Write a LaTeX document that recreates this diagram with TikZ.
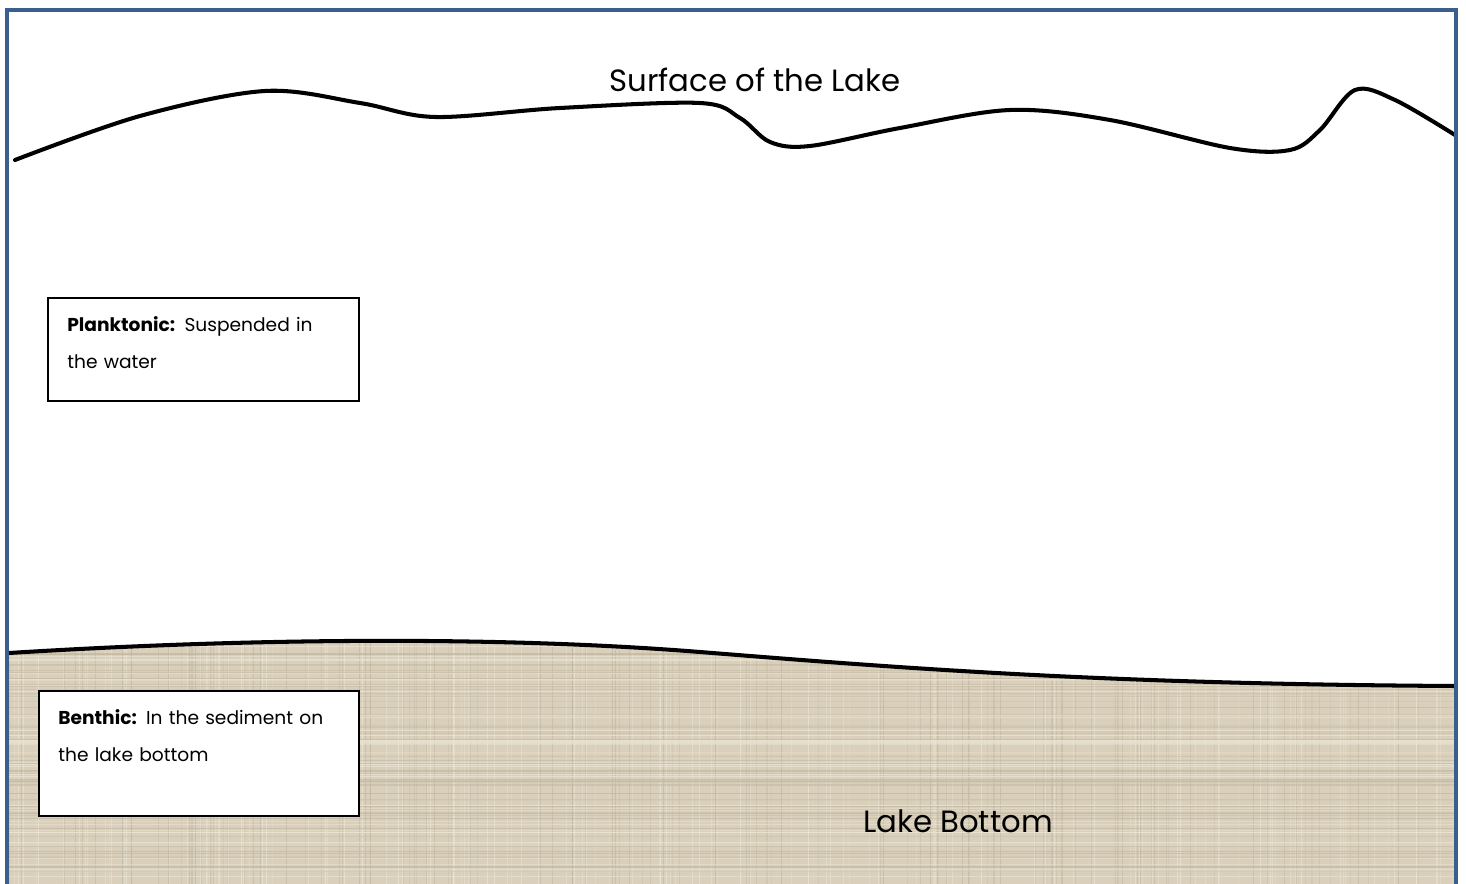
\documentclass[tikz,border=0pt]{standalone}
\usepackage{fontspec}
\setmainfont{Poppins}
\usetikzlibrary{positioning}
\definecolor{frameblue}{RGB}{59,95,140}
\definecolor{sand}{RGB}{217,207,186}
\definecolor{sandlight}{RGB}{236,230,214}
\definecolor{sanddark}{RGB}{194,184,162}

\begin{document}
\begin{tikzpicture}[
    x=0.02cm, y=-0.02cm,
    shore/.style={line width=2.3pt, line cap=round, black},
    panel/.style={rectangle, draw=black, line width=1.1pt, fill=white, anchor=north west, inner sep=0pt},
    paneltext/.style={anchor=north west, align=left, text width=5.44cm, font=\fontsize{10.6}{21}\selectfont, inner sep=0pt},
    bigtext/.style={font=\fontsize{17.5}{21}\selectfont}
  ]
    \useasboundingbox (0,0) rectangle (1466,884);
    \fill[white] (0,0) rectangle (1466,884);

    % lake bottom with linen texture
    \begin{scope}
      \clip (9,653) .. controls (250,638) and (500,636) .. (700,652)
        .. controls (900,668) and (1100,684) .. (1456,686) -- (1456,884) -- (9,884) -- cycle;
      \fill[sand] (0,630) rectangle (1466,884);
      \pgfmathsetseed{7}
      \foreach \i in {0,...,260} {
        \pgfmathsetmacro{\xx}{9+rnd*1450}
        \pgfmathsetmacro{\op}{0.25+0.5*rnd}
        \pgfmathparse{rnd<0.5 ? "sandlight" : "sanddark"}
        \draw[\pgfmathresult, opacity=\op, line width=0.5pt] (\xx,630) -- (\xx,884);
      }
      \foreach \i in {0,...,120} {
        \pgfmathsetmacro{\yy}{630+rnd*254}
        \pgfmathsetmacro{\op}{0.25+0.5*rnd}
        \pgfmathparse{rnd<0.5 ? "sandlight" : "sanddark"}
        \draw[\pgfmathresult, opacity=\op, line width=0.5pt] (0,\yy) -- (1466,\yy);
      }
    \end{scope}
    \draw[shore, line cap=butt] (9,653) .. controls (250,638) and (500,636) .. (700,652)
      .. controls (900,668) and (1100,684) .. (1456,686);

    % surface of the lake
    \draw[shore] plot[smooth, tension=0.55] coordinates {
      (15,160) (140,116) (265,91) (360,103) (435,117) (560,108) (700,103)
      (740,118) (770,142) (810,146) (900,128) (1010,110) (1110,120)
      (1230,148) (1290,150) (1320,130) (1355,90) (1395,100) (1455,135)};

    % frame
    \draw[frameblue, line width=2.4pt] (7,900) -- (7,10) -- (1456,10) -- (1456,900);

    \node[bigtext] (surface) at (755,80) {Surface of the Lake};
    \node[bigtext] (bottom) at (958,821) {Lake Bottom};

    \node[panel, minimum width=6.22cm, minimum height=2.06cm] (plankbox) at (47,297) {};
    \node[paneltext, below right=0.38cm and 0.4cm of plankbox.north west, anchor=north west]
      (planktext) {\textbf{Planktonic:} Suspended in the water};

    \node[panel, minimum width=6.4cm, minimum height=2.5cm] (benthbox) at (38,690) {};
    \node[paneltext, below right=0.38cm and 0.4cm of benthbox.north west, anchor=north west]
      (benthtext) {\textbf{Benthic:} In the sediment on the lake bottom};
  \end{tikzpicture}
\end{document}
